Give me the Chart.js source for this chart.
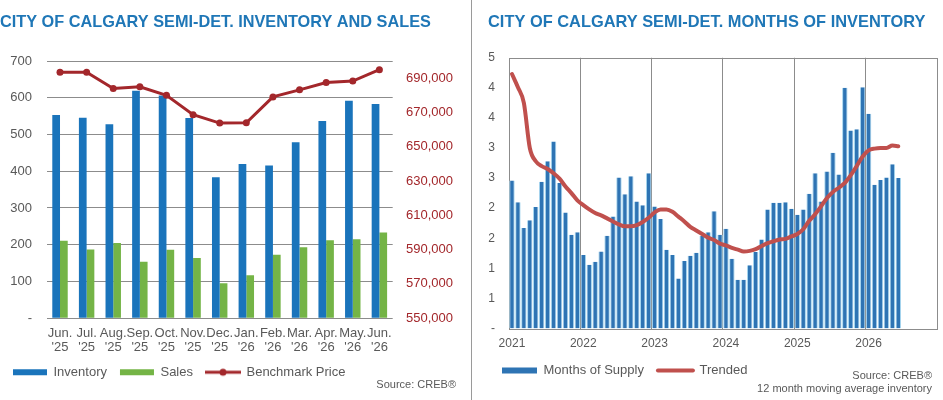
<!DOCTYPE html>
<html>
<head>
<meta charset="utf-8">
<title>City of Calgary semi-detached</title>
<script src="https://cdn.jsdelivr.net/npm/chart.js@4.4.0/dist/chart.umd.min.js"></script>
<style>
  html, body { margin: 0; padding: 0; background: #fff; }
  #left { position: absolute; left: 0; top: 0; width: 470px; height: 400px; }
  #divider { position: absolute; left: 471px; top: 0; width: 1px; height: 400px; background: #9a9a9a; }
  #right { position: absolute; left: 474px; top: 0; width: 469px; height: 400px; }
</style>
</head>
<body>
<div id="left"><canvas id="invChart" width="470" height="400"></canvas></div>
<div id="divider"></div>
<div id="right"><canvas id="moiChart" width="469" height="400"></canvas></div>

<script>
// ---- inventory and sales (left) ----
const monthNames = ['Jun.', 'Jul.', 'Aug.', 'Sep.', 'Oct.', 'Nov.', 'Dec.', 'Jan.', 'Feb.', 'Mar.', 'Apr.', 'May.', 'Jun.'];
const monthYears = ["'25", "'25", "'25", "'25", "'25", "'25", "'25", "'26", "'26", "'26", "'26", "'26", "'26"];
const inventory = [553, 546, 528, 619, 606, 545, 384, 420, 416, 479, 537, 592, 583];
const sales = [211, 187, 205, 154, 186, 164, 95, 117, 173, 193, 212, 215, 233];
const benchmarkPrice = [693500, 693500, 684000, 685000, 680000, 668700, 663800, 664000, 679100, 683200, 687500, 688300, 695000];
const priceTicks = [550000, 570000, 590000, 610000, 630000, 650000, 670000, 690000];

// ---- months of inventory (right) ----
const years = ['2021', '2022', '2023', '2024', '2025', '2026'];
const monthsOfSupply = [
  2.46, 2.10, 1.67, 1.80, 2.02, 2.44, 2.78, 3.11, 2.42, 1.93, 1.56, 1.60,
  1.22, 1.06, 1.11, 1.28, 1.54, 1.86, 2.51, 2.23, 2.53, 2.11, 2.05, 2.58,
  2.03, 1.82, 1.31, 1.22, 0.83, 1.12, 1.21, 1.26, 1.54, 1.60, 1.95, 1.56,
  1.66, 1.16, 0.81, 0.81, 1.05, 1.27, 1.48, 1.98, 2.09, 2.09, 2.10, 1.99,
  1.89, 1.98, 2.24, 2.58, 2.11, 2.61, 2.92, 2.56, 4.00, 3.29, 3.31, 4.01,
  3.57, 2.39, 2.47, 2.51, 2.73, 2.50
];
const trended = [
  4.23, 4.01, 3.75, 3.00, 2.78, 2.70, 2.65, 2.58, 2.49, 2.36, 2.25, 2.13,
  2.05, 1.98, 1.92, 1.88, 1.83, 1.78, 1.73, 1.70, 1.70, 1.72, 1.77, 1.84,
  1.93, 1.98, 1.98, 1.94, 1.86, 1.78, 1.69, 1.63, 1.57, 1.51, 1.47, 1.41,
  1.38, 1.34, 1.31, 1.28, 1.29, 1.32, 1.37, 1.42, 1.45, 1.48, 1.49, 1.53,
  1.57, 1.65, 1.79, 1.90, 2.03, 2.17, 2.27, 2.34, 2.42, 2.55, 2.70, 2.86,
  2.96, 2.99, 3.00, 3.00, 3.04, 3.03
];

const FONT = '"Liberation Sans", Arial, sans-serif';
const GREY_TEXT = '#595959';
const GRID = '#8c8c8c';
const TITLE_BLUE = '#1f77b7';
const PRICE_RED = '#a3272b';

Chart.defaults.font.family = FONT;
Chart.defaults.color = GREY_TEXT;

// legend swatches: bars as wide rects, lines as lines
function legendItems(chart) {
  const items = Chart.defaults.plugins.legend.labels.generateLabels(chart);
  items.forEach(it => {
    const ds = chart.data.datasets[it.datasetIndex];
    if (ds.legendSwatch) {
      it.pointStyle = ds.legendSwatch;
    } else if (ds.type === 'line') {
      it.pointStyle = 'line';
      it.lineWidth = ds.borderWidth;
      it.strokeStyle = ds.borderColor;
      it.lineCap = 'round';
    } else {
      it.pointStyle = 'rect';
      it.lineWidth = 0;
    }
  });
  return items.sort((a, b) => a.datasetIndex - b.datasetIndex);
}

const sourceNote = {
  id: 'sourceNote',
  afterDraw(chart, args, opts) {
    const ctx = chart.ctx;
    ctx.save();
    ctx.font = '11px ' + FONT;
    ctx.fillStyle = GREY_TEXT;
    ctx.textAlign = 'right';
    ctx.textBaseline = 'middle';
    opts.lines.forEach((t, i) => ctx.fillText(t, opts.x, opts.y + i * opts.step));
    ctx.restore();
  }
};

const plotFrame = {
  id: 'plotFrame',
  beforeDatasetsDraw(chart, args, opts) {
    if (!opts.color) return;
    const a = chart.chartArea, ctx = chart.ctx;
    ctx.save();
    ctx.strokeStyle = opts.color;
    ctx.lineWidth = 1;
    ctx.strokeRect(Math.round(a.left) + 0.5, Math.round(a.top) + 0.5,
      Math.round(a.right - a.left), Math.round(a.bottom - a.top));
    ctx.restore();
  }
};

// line + dot swatch for the benchmark price legend
const priceSwatch = document.createElement('canvas');
priceSwatch.width = 36; priceSwatch.height = 10;
(function () {
  const c = priceSwatch.getContext('2d');
  c.strokeStyle = PRICE_RED; c.lineWidth = 3;
  c.beginPath(); c.moveTo(0, 5); c.lineTo(36, 5); c.stroke();
  c.fillStyle = PRICE_RED;
  c.beginPath(); c.arc(18, 5, 3.5, 0, Math.PI * 2); c.fill();
})();

// left chart
new Chart(document.getElementById('invChart'), {
  type: 'bar',
  data: {
    labels: monthNames.map((m, i) => [m, monthYears[i]]),
    datasets: [
      {
        label: 'Inventory',
        data: inventory,
        backgroundColor: '#1a74bb',
        yAxisID: 'y',
        barPercentage: 1,
        categoryPercentage: 0.58,
        order: 1
      },
      {
        label: 'Sales',
        data: sales,
        backgroundColor: '#74b446',
        yAxisID: 'y',
        barPercentage: 1,
        categoryPercentage: 0.58,
        order: 1
      },
      {
        type: 'line',
        label: 'Benchmark Price',
        data: benchmarkPrice,
        yAxisID: 'y1',
        borderColor: PRICE_RED,
        backgroundColor: PRICE_RED,
        borderWidth: 3,
        pointRadius: 3.5,
        pointBackgroundColor: PRICE_RED,
        pointBorderWidth: 0,
        tension: 0,
        legendSwatch: priceSwatch,
        order: 0
      }
    ]
  },
  plugins: [sourceNote],
  options: {
    responsive: false,
    animation: false,
    layout: { padding: { left: 0, right: 0, top: 0, bottom: 11.3 } },
    plugins: {
      title: {
        display: true,
        text: 'CITY OF CALGARY SEMI-DET. INVENTORY AND SALES',
        align: 'start',
        color: TITLE_BLUE,
        font: { size: 16.3, weight: 'bold' },
        padding: { top: 12.5, bottom: 29 }
      },
      legend: {
        position: 'bottom',
        align: 'start',
        labels: {
          usePointStyle: true,
          pointStyleWidth: 34,
          boxHeight: 6,
          padding: 13,
          color: GREY_TEXT,
          font: { size: 13 },
          generateLabels: legendItems
        }
      },
      tooltip: { enabled: false },
      sourceNote: { lines: ['Source: CREB\u00AE'], x: 456, y: 385, step: 13 }
    },
    scales: {
      x: {
        grid: { display: false, drawTicks: false },
        border: { display: false },
        ticks: { maxRotation: 0, autoSkip: false, padding: 8, color: GREY_TEXT, font: { size: 13, lineHeight: 1.1 } },
        afterFit: s => { s.height = 34.5; }
      },
      y: {
        position: 'left',
        min: 0,
        max: 700,
        grid: { color: GRID, drawTicks: false },
        border: { display: false },
        ticks: { stepSize: 100, padding: 14.7, color: GREY_TEXT, font: { size: 13 },
          callback: v => v === 0 ? '-' : v },
        afterFit: s => { s.width = 46.7; }
      },
      y1: {
        position: 'right',
        min: 550000,
        max: 700000,
        grid: { display: false, drawTicks: false },
        border: { display: false },
        ticks: { padding: 13.3, color: PRICE_RED, font: { size: 13 },
          callback: v => v.toLocaleString('en-US') },
        afterBuildTicks: s => { s.ticks = priceTicks.map(v => ({ value: v })); },
        afterFit: s => { s.width = 77.3; }
      }
    }
  }
});

// right chart
const monthSlots = [];
years.forEach(y => { for (let m = 1; m <= 12; m++) monthSlots.push(y + '-' + m); });

new Chart(document.getElementById('moiChart'), {
  type: 'bar',
  data: {
    labels: monthSlots,
    datasets: [
      {
        label: 'Months of Supply',
        data: monthsOfSupply,
        backgroundColor: '#2e74b4',
        borderColor: '#a6d6ef',
        borderWidth: { left: 1, right: 1, top: 0, bottom: 0 },
        borderSkipped: false,
        barPercentage: 0.92,
        categoryPercentage: 1,
        order: 1
      },
      {
        type: 'line',
        label: 'Trended',
        data: trended,
        borderColor: '#c0504d',
        backgroundColor: '#c0504d',
        borderWidth: 4,
        borderCapStyle: 'round',
        pointRadius: 0,
        cubicInterpolationMode: 'monotone',
        order: 0
      }
    ]
  },
  plugins: [sourceNote, plotFrame],
  options: {
    responsive: false,
    animation: false,
    layout: { padding: { left: 14, right: 3.7, top: 0, bottom: 13 } },
    plugins: {
      title: {
        display: true,
        text: 'CITY OF CALGARY SEMI-DET. MONTHS OF INVENTORY',
        align: 'start',
        color: TITLE_BLUE,
        font: { size: 16.4, weight: 'bold' },
        padding: { top: 13, bottom: 25.1 }
      },
      legend: {
        position: 'bottom',
        align: 'start',
        labels: {
          usePointStyle: true,
          pointStyleWidth: 35,
          boxHeight: 6,
          padding: 14,
          color: GREY_TEXT,
          font: { size: 13 },
          generateLabels: legendItems
        }
      },
      tooltip: { enabled: false },
      plotFrame: { color: GRID },
      sourceNote: { lines: ['Source: CREB\u00AE', '12 month moving average inventory'], x: 458, y: 376, step: 12.6 }
    },
    scales: {
      x: {
        grid: {
          offset: true,
          drawTicks: false,
          color: c => (c.index % 12 === 0 && c.index > 0) ? GRID : 'rgba(0,0,0,0)'
        },
        border: { display: false },
        ticks: { maxRotation: 0, autoSkip: false, padding: 9, color: GREY_TEXT, font: { size: 12, lineHeight: 1 },
          callback: (v, i) => i % 12 === 0 ? years[i / 12] : '' },
        afterFit: s => { s.height = 21.5; }
      },
      y: {
        min: 0,
        max: 4.5,
        grid: { display: false, drawTicks: false },
        border: { display: false },
        ticks: { stepSize: 0.5, padding: 14, color: GREY_TEXT, font: { size: 12 },
          callback: v => v === 0 ? '-' : Math.round(v) },
        afterFit: s => { s.width = 21; }
      }
    }
  }
});
</script>
</body>
</html>
